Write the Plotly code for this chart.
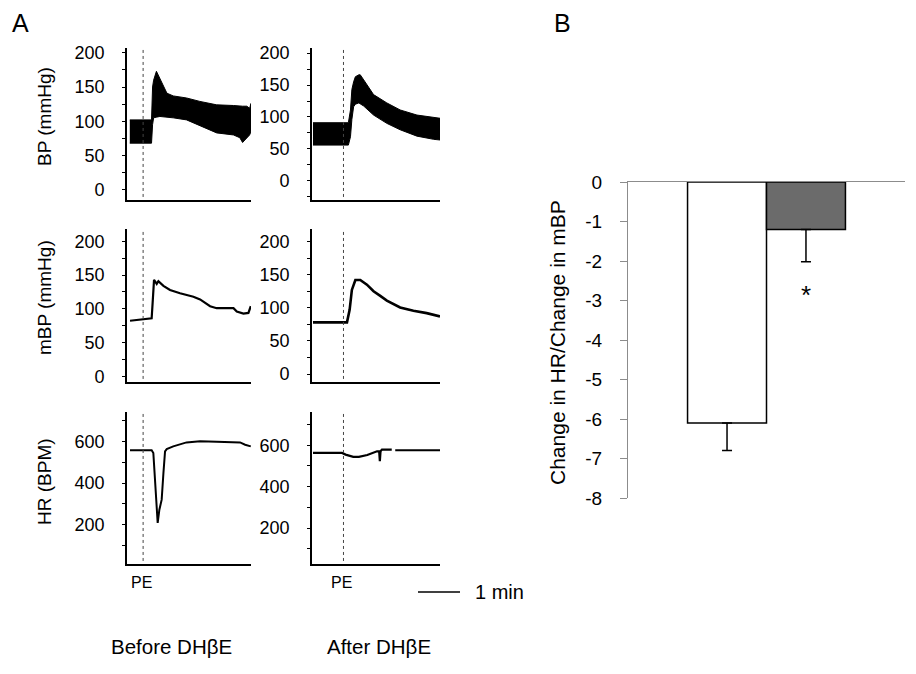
import plotly.graph_objects as go

W, H = 916, 674
FONT = "Liberation Sans, Arial, sans-serif"

# ---------------- Panel A data (time in s) ----------------
pe_time = [23, 45]  # PE injection time, before / after

# BP envelope (pulsatile band) - Before DHbE
t_bp_before = [4, 35, 36.5, 38, 42, 47, 52, 57, 66, 85, 104, 128, 152, 161, 165, 171, 175, 177]
bp_up_before = [102, 102, 150, 160, 173, 163, 152, 141, 137, 134, 129, 124, 123, 122, 122, 122, 119, 126]
bp_lo_before = [68, 68, 95, 105, 106, 107, 107, 106, 105, 102, 93, 83, 80, 76, 69, 76, 80, 85]

# BP envelope - After DHbE
t_bp_after = [1.4, 52, 55, 57, 59.5, 62, 67, 69, 74, 88, 107, 126, 150, 174, 183]
bp_up_after = [91, 91, 111, 143, 155, 163, 166, 166, 158, 135, 122, 111, 103, 100, 98]
bp_lo_after = [56, 56, 69, 96, 116, 120, 122, 121, 117, 103, 90, 80, 70, 65, 64]

# mean BP
t_mbp_before = [4.3, 35.2, 36.6, 38.6, 42.4, 44.8, 52, 61.4, 75.7, 94.8, 104.3, 118.6, 128, 152, 156.7, 166.2, 173.3, 176.7]
mbp_before = [82.5, 86, 109, 143, 137, 141, 134, 128, 123, 118, 114, 104, 101, 101, 96, 93, 94, 104]
t_mbp_after = [1.4, 50, 53.8, 57, 62, 69, 78.5, 88, 97.6, 107, 126, 145, 164, 183]
mbp_after = [78, 78, 97, 127, 142, 142, 135, 125, 118, 111, 100.5, 95.5, 92, 87]

# HR
t_hr_before = [4.3, 35.2, 37.6, 40, 42.4, 43.8, 46.2, 49.5, 52, 54.3, 56.7, 66, 85, 104.3, 128, 152, 161.4, 168.6, 176.7]
hr_before = [557, 557, 544, 416, 256, 208, 272, 320, 448, 552, 563, 576, 595, 600, 598, 598, 595, 584, 576]
t_hr_after = [1.4, 43, 48, 59, 67, 79, 93, 96, 97, 98, 100, 114, None, 119, 183]
hr_after = [563, 563, 555, 544, 544, 553, 571, 571, 523, 571, 579, 579, None, 576, 576]

# ---------------- Panel B data ----------------
groups = ["Before DHβE", "After DHβE"]
ratio_mean = [-6.1, -1.2]
ratio_sem = [0.7, 0.82]
bar_fill = ["white", "#6b6b6b"]
sig_marker_y = -2.75
ratio_ticks = [0, -1, -2, -3, -4, -5, -6, -7, -8]
ratio_tick_text = ["0", "-1", "-2", "-3", "-4", "-5", "-6", "-7", "-8"]

# ---------------- helpers ----------------
def px_x(p):
    return p / W

def px_y(p):
    return 1 - p / H

fig = go.Figure()

def band(t, up, lo, xa, ya):
    xs = list(t) + list(t)[::-1]
    ys = list(up) + list(lo)[::-1]
    fig.add_trace(go.Scatter(x=xs, y=ys, fill="toself", fillcolor="black",
                             mode="lines", line=dict(color="black", width=1),
                             xaxis=xa, yaxis=ya, showlegend=False, hoverinfo="skip"))

def line(t, v, xa, ya, w):
    fig.add_trace(go.Scatter(x=t, y=v, mode="lines", line=dict(color="black", width=w),
                             xaxis=xa, yaxis=ya, showlegend=False, connectgaps=False))

band(t_bp_before, bp_up_before, bp_lo_before, "x", "y")
band(t_bp_after, bp_up_after, bp_lo_after, "x2", "y2")
line(t_mbp_before, mbp_before, "x3", "y3", 2.2)
line(t_mbp_after, mbp_after, "x4", "y4", 2.6)
line(t_hr_before, hr_before, "x5", "y5", 2)
line(t_hr_after, hr_after, "x6", "y6", 2.2)

for i, g in enumerate(groups):
    fig.add_trace(go.Bar(
        x=["ratio"], y=[ratio_mean[i]], name=g,
        marker=dict(color=bar_fill[i], line=dict(color="black", width=1.5)),
        error_y=dict(type="data", symmetric=False, array=[0], arrayminus=[ratio_sem[i]],
                     color="black", thickness=1.5, width=5),
        xaxis="x7", yaxis="y7", showlegend=False))

# ---------------- axes ----------------
left_dom = [px_x(127), px_x(251)]
right_dom = [px_x(312), px_x(440)]
rows = {"bp": [px_y(200), px_y(48)], "mbp": [px_y(382), px_y(229)], "hr": [px_y(564), px_y(412)]}

xranges = {"left": [0, 177], "right": [0, 183]}

def xax(dom, rng, anchor):
    return dict(domain=dom, range=rng, anchor=anchor, showgrid=False, zeroline=False,
                automargin=False,
                showline=True, linecolor="black", linewidth=1.6, ticks="", showticklabels=False)

def yax(dom, rng, anchor, dtick, minor):
    return dict(domain=dom, range=rng, anchor=anchor, showgrid=False, zeroline=False,
                automargin=False,
                showline=True, linecolor="black", linewidth=1.6,
                ticks="outside", ticklen=3, tickwidth=1, tickcolor="black",
                tick0=0, dtick=dtick, ticklabelstandoff=14,
                tickfont=dict(size=18, color="black", family=FONT),
                minor=dict(tick0=0, dtick=minor, ticks="outside", ticklen=3,
                           tickcolor="black", showgrid=False))

layout_axes = {
    "xaxis": xax(left_dom, xranges["left"], "y"),
    "xaxis2": xax(right_dom, xranges["right"], "y2"),
    "xaxis3": xax(left_dom, xranges["left"], "y3"),
    "xaxis4": xax(right_dom, xranges["right"], "y4"),
    "xaxis5": xax(left_dom, xranges["left"], "y5"),
    "xaxis6": xax(right_dom, xranges["right"], "y6"),
    "yaxis": yax(rows["bp"], [-15, 207], "x", 50, 25),
    "yaxis2": yax(rows["bp"], [-30, 208], "x2", 50, 25),
    "yaxis3": yax(rows["mbp"], [-8, 218], "x3", 50, 25),
    "yaxis4": yax(rows["mbp"], [-12, 219], "x4", 50, 25),
    "yaxis5": yax(rows["hr"], [11, 741], "x5", 200, 100),
    "yaxis6": yax(rows["hr"], [26, 761], "x6", 200, 100),
    "xaxis7": dict(domain=[px_x(628), px_x(905)], anchor="y7", type="category",
                   side="top", range=[-0.5, 0.5], showgrid=False, zeroline=False,
                   automargin=False,
                   showline=True, linecolor="#8c8c8c", linewidth=1.2,
                   ticks="inside", tickson="boundaries", ticklen=5, tickcolor="#8c8c8c",
                   showticklabels=False),
    "yaxis7": dict(domain=[px_y(498), px_y(182)], anchor="x7", range=[-8, 0],
                   tickmode="array", tickvals=ratio_ticks, ticktext=ratio_tick_text,
                   showgrid=False, zeroline=False, showline=True, linecolor="#8c8c8c",
                   automargin=False,
                   linewidth=1.2, ticks="outside", ticklen=7, tickcolor="#8c8c8c",
                   ticklabelstandoff=14,
                   tickfont=dict(size=19, color="black", family=FONT)),
}

# ---------------- shapes ----------------
shapes = []
for xa, ya, tpe in [("x", "y", pe_time[0]), ("x2", "y2", pe_time[1]),
                    ("x3", "y3", pe_time[0]), ("x4", "y4", pe_time[1]),
                    ("x5", "y5", pe_time[0]), ("x6", "y6", pe_time[1])]:
    shapes.append(dict(type="line", xref=xa, yref=ya + " domain", x0=tpe, x1=tpe,
                       y0=0.02, y1=1, line=dict(color="#444", width=1, dash="dot")))
# 1 min scale bar (60 s in the right-column time scale)
shapes.append(dict(type="line", xref="paper", yref="paper",
                   x0=px_x(418), x1=px_x(418 + 60 * 0.7), y0=px_y(592), y1=px_y(592),
                   line=dict(color="black", width=1.5)))

# ---------------- annotations ----------------
def ann(text, x, y, size, angle=0, xanchor="center", yanchor="middle"):
    return dict(text=text, x=px_x(x), y=px_y(y), xref="paper", yref="paper",
                showarrow=False, textangle=angle, xanchor=xanchor, yanchor=yanchor,
                font=dict(size=size, color="black", family=FONT))

annotations = [
    ann("A", 20, 23, 25),
    ann("B", 562, 23, 25),
    ann("BP (mmHg)", 44, 117, 19, -90),
    ann("mBP (mmHg)", 44, 298, 19, -90),
    ann("HR (BPM)", 44, 482, 19, -90),
    ann("PE", 141, 582, 16),
    ann("PE", 341, 582, 16),
    ann("1 min", 473, 592, 20, xanchor="left"),
    ann("Before DHβE", 171, 646, 20.5),
    ann("After DHβE", 379, 646, 20.5),
    ann("Change in HR/Change in mBP", 557, 343, 21, -90),
    dict(text="*", x="ratio", y=sig_marker_y, xref="x7", yref="y7", xshift=39, yshift=-4,
         showarrow=False, font=dict(size=26, color="black", family=FONT)),
]

fig.update_layout(
    width=W, height=H, autosize=False,
    margin=dict(l=0, r=0, t=0, b=0, autoexpand=False),
    paper_bgcolor="white", plot_bgcolor="white",
    font=dict(family=FONT, color="black"),
    barmode="group", bargap=0.43, bargroupgap=0,
    shapes=shapes, annotations=annotations,
    **layout_axes,
)

fig.write_html("out.html",
               config={"displayModeBar": False},
               post_script="document.body.style.margin='0';document.body.style.padding='0';")
